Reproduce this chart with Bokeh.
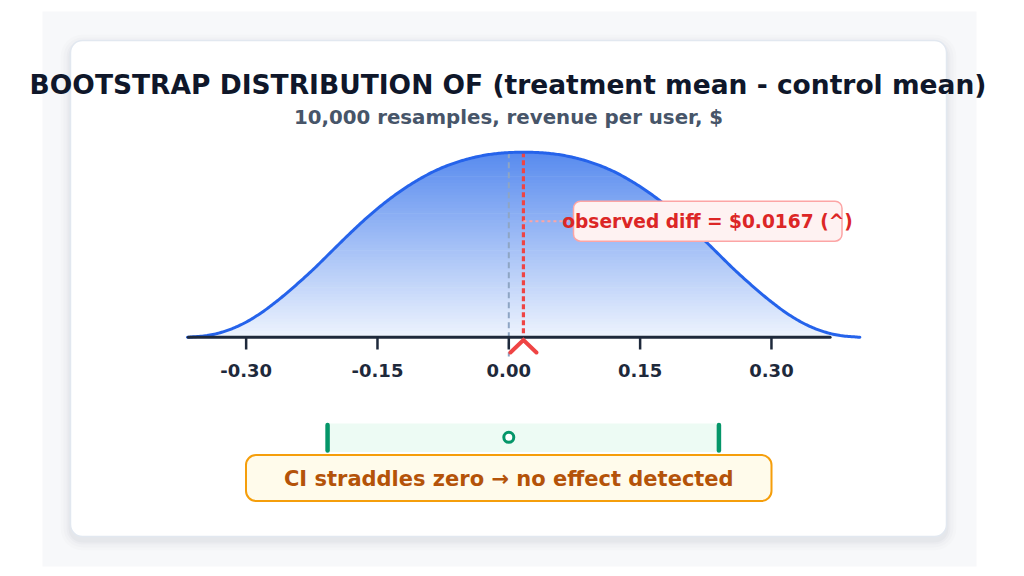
import numpy as np
from bokeh.plotting import figure
from bokeh.models import Range1d, BoxAnnotation, Label
from bokeh.core.properties import value
from bokeh.embed import file_html
from bokeh.resources import INLINE

# ---------------- data ----------------
diff_x = [-0.367, -0.363, -0.343, -0.323, -0.303, -0.283, -0.263, -0.243, -0.223, -0.203,
          -0.183, -0.163, -0.143, -0.123, -0.103, -0.083, -0.063, -0.043, -0.023, -0.003,
          0.017, 0.037, 0.057, 0.077, 0.097, 0.117, 0.137, 0.157, 0.177, 0.197,
          0.217, 0.237, 0.257, 0.277, 0.297, 0.317, 0.337, 0.357, 0.377, 0.397, 0.401]
density_rel = [0.000, 0.001, 0.010, 0.034, 0.074, 0.131, 0.202, 0.282, 0.368, 0.461,
               0.554, 0.642, 0.722, 0.792, 0.852, 0.902, 0.940, 0.968, 0.987, 0.997,
               1.000, 0.997, 0.987, 0.968, 0.940, 0.902, 0.852, 0.792, 0.722, 0.642,
               0.554, 0.461, 0.368, 0.282, 0.202, 0.131, 0.074, 0.034, 0.010, 0.001, 0.000]
observed_diff = 0.0167
ci_low = -0.207
ci_high = 0.240
zero_ref = 0.0
tick_values = [-0.30, -0.15, 0.00, 0.15, 0.30]
tick_labels = ["-0.30", "-0.15", "0.00", "0.15", "0.30"]
axis_lo, axis_hi = -0.366, 0.367

title_text = "BOOTSTRAP DISTRIBUTION OF (treatment mean - control mean)"
subtitle_text = "10,000 resamples, revenue per user, $"
annot_text = "observed diff = $0.0167 (^)"
verdict_text = "CI straddles zero \u2192 no effect detected"

# ---------------- layout helpers (pixel -> data) ----------------
W, H = 1024, 576
X0, KX = 508.3, 875.5
Y0, KY = 336.7, 185.0


def px_x(px):
    return (px - X0) / KX


def px_y(py):
    return (Y0 - py) / KY


FONT = "DejaVu Sans"

p = figure(width=W, height=H,
           x_range=Range1d(px_x(0), px_x(W)), y_range=Range1d(px_y(H), px_y(0)),
           output_backend="svg", toolbar_location=None,
           x_axis_location=None, y_axis_location=None,
           min_border=0, outline_line_color=None,
           background_fill_color="white", border_fill_color="white")
p.grid.visible = False


def box(l, r, t, b, **kw):
    ba = BoxAnnotation(left=px_x(l), right=px_x(r), top=px_y(t), bottom=px_y(b), **kw)
    p.add_layout(ba)
    return ba


# page background and card
box(42, 976, 11, 566, fill_color="#f7f8fa", fill_alpha=1, line_color=None, level="underlay")
for g, a in [(10, 0.012), (7, 0.016), (4, 0.02), (2, 0.025)]:
    box(70 - g, 946 + g, 44 - g, 540 + g, fill_color="#0f172a", fill_alpha=a,
        line_color=None, border_radius=12 + g, level="underlay")
box(70, 946, 40, 536, fill_color="white", fill_alpha=1, line_color="#e2e8f0",
    line_alpha=1, line_width=1.5, border_radius=12, level="underlay")


# ---------------- smooth rendering path through the read points ----------------
def smooth_path(x, y, steps=12):
    px = np.asarray(x, float) * KX
    py = np.asarray(y, float) * KY
    P = np.column_stack([px, py])
    P = np.vstack([P[0] * 2 - P[1], P, P[-1] * 2 - P[-2]])
    out = []
    for i in range(1, len(P) - 2):
        p0, p1, p2, p3 = P[i - 1], P[i], P[i + 1], P[i + 2]
        for t in np.linspace(0, 1, steps, endpoint=False):
            t2, t3 = t * t, t * t * t
            pt = 0.5 * ((2 * p1) + (-p0 + p2) * t + (2 * p0 - 5 * p1 + 4 * p2 - p3) * t2
                        + (-p0 + 3 * p1 - 3 * p2 + p3) * t3)
            out.append(pt)
    out.append(P[-2])
    out = np.array(out)
    return out[:, 0] / KX, np.clip(out[:, 1] / KY, 0, None)


sx, sy = smooth_path(diff_x, density_rel)

# ---------------- gradient fill under the curve ----------------
fx = np.linspace(sx[0], sx[-1], 700)
fy = np.interp(fx, sx, sy)
top_rgb = np.array([88, 139, 239])
bot_rgb = np.array([238, 244, 254])
N = 60
peak = max(density_rel)
for k in range(N):
    b = peak * k / N
    t = peak * (k + 1) / N
    f = (k + 0.5) / N
    c = (bot_rgb + (top_rgb - bot_rgb) * f).astype(int)
    col = "#%02x%02x%02x" % tuple(c)
    p.varea(x=fx, y1=np.minimum(fy, b), y2=np.minimum(fy, t + 0.004),
            fill_color=col, fill_alpha=1)

# reference lines
p.segment(x0=[zero_ref], y0=[peak], x1=[zero_ref], y1=[px_y(356)],
          line_color="#8ea5c4", line_width=2, line_dash="6 4")
p.segment(x0=[observed_diff], y0=[peak], x1=[observed_diff], y1=[0],
          line_color="#ef4444", line_width=3.2, line_dash="5 3")

# curve
p.line(sx, sy, line_color="#2563eb", line_width=3, line_join="round", line_cap="round")

# axis
p.segment(x0=[axis_lo], y0=[0], x1=[axis_hi], y1=[0], line_color="#1e293b",
          line_width=3, line_cap="round")
p.segment(x0=tick_values, y0=[0] * len(tick_values), x1=tick_values,
          y1=[px_y(349)] * len(tick_values), line_color="#1e293b", line_width=2.5)
p.text(x=tick_values, y=[px_y(370)] * len(tick_values), text=tick_labels,
       text_font=value(FONT), text_font_style="bold", text_font_size="18px",
       text_color="#1e293b", text_align="center", text_baseline="middle")

# caret marker for observed diff
p.line(x=[observed_diff - 13 / KX, observed_diff, observed_diff + 13 / KX],
       y=[px_y(352), px_y(339.5), px_y(352)], line_color="#ef4444", line_width=4,
       line_cap="round", line_join="miter")

# connector to the annotation box
p.segment(x0=[observed_diff], y0=[px_y(220.7)], x1=[px_x(572)], y1=[px_y(220.7)],
          line_color="#fca5a5", line_width=2, line_dash="3 3")

# CI bar
p.quad(left=[ci_low], right=[ci_high], top=[px_y(423)], bottom=[px_y(451.5)],
       fill_color="#edfbf4", line_color=None)
p.segment(x0=[ci_low, ci_high], y0=[px_y(424.5)] * 2, x1=[ci_low, ci_high],
          y1=[px_y(450)] * 2, line_color="#059669", line_width=4.5, line_cap="round")
p.scatter(x=[zero_ref], y=[px_y(436.8)], size=10, marker="circle",
          fill_color="white", line_color="#059669", line_width=3)

# annotation box + text
box(573, 841.5, 200.7, 240.7, fill_color="#fef2f2", fill_alpha=1, line_color="#fca5a5",
    line_alpha=1, line_width=1.5, border_radius=7)
p.add_layout(Label(x=px_x(707), y=px_y(221), text=annot_text, text_font=FONT,
                   text_font_style="bold", text_font_size="18.6px", text_color="#dc2626",
                   text_align="center", text_baseline="middle"))

# verdict box + text
box(245.5, 771, 454.5, 500.5, fill_color="#fffbeb", fill_alpha=1, line_color="#f59e0b",
    line_alpha=1, line_width=2, border_radius=10)
p.add_layout(Label(x=px_x(508.3), y=px_y(478), text=verdict_text, text_font=FONT,
                   text_font_style="bold", text_font_size="21px", text_color="#b45309",
                   text_align="center", text_baseline="middle"))

# title + subtitle
p.add_layout(Label(x=px_x(507.5), y=px_y(84.3), text=title_text, text_font=FONT,
                   text_font_style="bold", text_font_size="26.5px", text_color="#0f172a",
                   text_align="center", text_baseline="middle"))
p.add_layout(Label(x=px_x(508), y=px_y(117.3), text=subtitle_text, text_font=FONT,
                   text_font_style="bold", text_font_size="19.8px", text_color="#475569",
                   text_align="center", text_baseline="middle"))

open("out.html", "w").write(file_html(p, INLINE))
